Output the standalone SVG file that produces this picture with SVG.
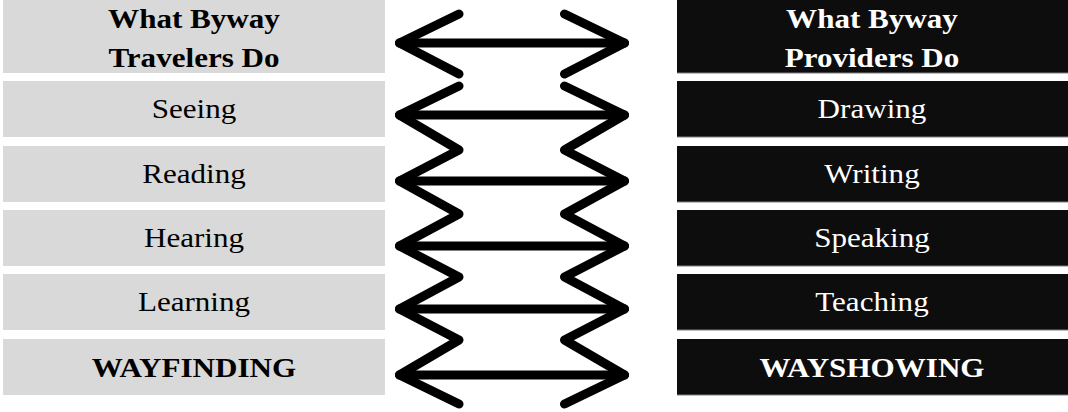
<svg xmlns="http://www.w3.org/2000/svg" width="1068" height="412" viewBox="0 0 1068 412">
<style>
.lb{fill:#d9d9d9}
.rb{fill:#0d0d0d}
.rl{stroke:#7f7f7f;stroke-width:1}
text{font-family:"Liberation Serif","Times New Roman",serif;font-size:28px;text-anchor:middle;transform-box:fill-box;transform-origin:center;transform:scaleX(1.11)}
.b{font-weight:bold}
.dk{fill:#000}
.wt{fill:#fff}
.arr{fill:none;stroke:#000;stroke-width:9;stroke-linejoin:round;stroke-linecap:round}
</style>
<rect width="1068" height="412" fill="#fff"/>
<g id="left-header"><rect class="lb" x="3" y="0" width="382" height="73"/><text class="b dk" x="194" y="28">What Byway</text><text class="b dk" x="194" y="67">Travelers Do</text></g>
<g id="left-seeing"><rect class="lb" x="3" y="81" width="382" height="56"/><text class="dk" x="194" y="118">Seeing</text></g>
<g id="left-reading"><rect class="lb" x="3" y="146" width="382" height="56"/><text class="dk" x="194" y="183">Reading</text></g>
<g id="left-hearing"><rect class="lb" x="3" y="210" width="382" height="56"/><text class="dk" x="194" y="247">Hearing</text></g>
<g id="left-learning"><rect class="lb" x="3" y="274" width="382" height="56"/><text class="dk" x="194" y="311">Learning</text></g>
<g id="left-wayfinding"><rect class="lb" x="3" y="339" width="382" height="56"/><text class="b dk" x="194" y="377">WAYFINDING</text></g>

<g id="right-header"><rect class="rb" x="677" y="0" width="391" height="73"/><line class="rl" x1="677" y1="73" x2="1068" y2="73"/><text class="b wt" x="872" y="28">What Byway</text><text class="b wt" x="872" y="67">Providers Do</text></g>
<g id="right-drawing"><rect class="rb" x="677" y="81" width="391" height="56"/><line class="rl" x1="677" y1="137" x2="1068" y2="137"/><text class="wt" x="872" y="118">Drawing</text></g>
<g id="right-writing"><rect class="rb" x="677" y="146" width="391" height="56"/><line class="rl" x1="677" y1="202" x2="1068" y2="202"/><text class="wt" x="872" y="183">Writing</text></g>
<g id="right-speaking"><rect class="rb" x="677" y="210" width="391" height="56"/><line class="rl" x1="677" y1="266" x2="1068" y2="266"/><text class="wt" x="872" y="247">Speaking</text></g>
<g id="right-teaching"><rect class="rb" x="677" y="274" width="391" height="56"/><line class="rl" x1="677" y1="330" x2="1068" y2="330"/><text class="wt" x="872" y="311">Teaching</text></g>
<g id="right-wayshowing"><rect class="rb" x="677" y="339" width="391" height="56"/><line class="rl" x1="677" y1="395" x2="1068" y2="395"/><text class="b wt" x="872" y="377">WAYSHOWING</text></g>

<g id="connectors">
<path class="arr" d="M459,14 L399.5,43 L459,74 M459,86 L399.5,115 L459,150 L399.5,181 L459,214 L399.5,246 L459,277 L399.5,309 L459,340 L399.5,375 L459,404"/>
<path class="arr" d="M564.5,14 L624.5,43 L564.5,74 M564.5,86 L624.5,115 L564.5,150 L624.5,181 L564.5,214 L624.5,246 L564.5,277 L624.5,309 L564.5,340 L624.5,375 L564.5,404"/>
<path class="arr" d="M399.5,43 H624.5 M399.5,115 H624.5 M399.5,181 H624.5 M399.5,246 H624.5 M399.5,309 H624.5 M399.5,375 H624.5"/>
</g>
</svg>
